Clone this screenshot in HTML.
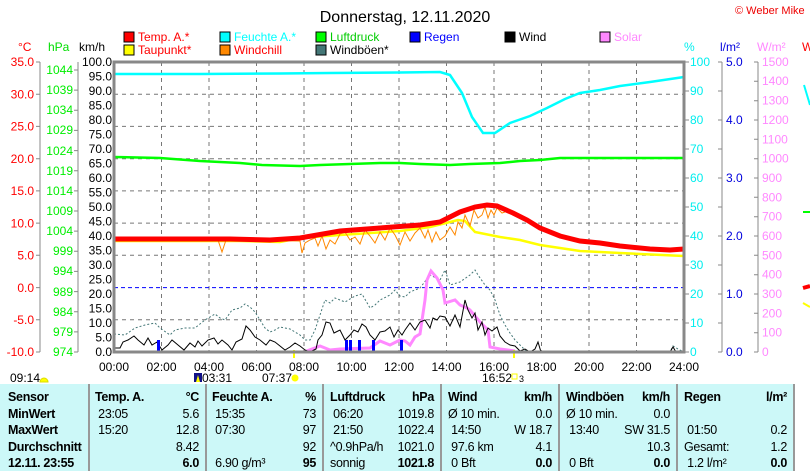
<!DOCTYPE html>
<html><head><meta charset="utf-8"><style>
body{margin:0;background:#fff;width:810px;height:471px;overflow:hidden;font-family:"Liberation Sans",sans-serif}
svg{position:absolute;left:0;top:0}
text{font-family:"Liberation Sans",sans-serif;font-size:12px}
.tb{position:absolute;left:0;top:384px;width:794px;height:87px;background:#ccf8f8}
.c{position:absolute;height:82px;font-size:12.5px;letter-spacing:-0.3px}
.r{display:block;height:16.5px;line-height:16.5px;white-space:nowrap}
.sep{position:absolute;top:384px;width:2px;height:87px;background:#999}
b{font-weight:bold}
</style></head><body>
<svg width="810" height="471" viewBox="0 0 810 471">
<text x="405" y="22" text-anchor="middle" style="font-size:16px">Donnerstag, 12.11.2020</text>
<text x="735" y="14" fill="#e00" style="font-size:11px">© Weber Mike</text>
<g style="font-size:12px">
<rect x="124" y="32" width="10" height="10" fill="#f00" stroke="#000"/><text x="138" y="41" fill="#f00">Temp. A.*</text>
<rect x="220" y="32" width="10" height="10" fill="#0ff" stroke="#000"/><text x="234" y="41" fill="#0ff">Feuchte A.*</text>
<rect x="316" y="32" width="10" height="10" fill="#0f0" stroke="#000"/><text x="330" y="41" fill="#0c0">Luftdruck</text>
<rect x="410" y="32" width="10" height="10" fill="#00f" stroke="#000"/><text x="424" y="41" fill="#00f">Regen</text>
<rect x="505" y="32" width="10" height="10" fill="#000" stroke="#000"/><text x="519" y="41">Wind</text>
<rect x="600" y="32" width="10" height="10" fill="#f8f" stroke="#000"/><text x="614" y="41" fill="#f8f">Solar</text>
<rect x="124" y="45" width="10" height="10" fill="#ff0" stroke="#000"/><text x="138" y="54" fill="#f00">Taupunkt*</text>
<rect x="220" y="45" width="10" height="10" fill="#f80" stroke="#000"/><text x="234" y="54" fill="#f00">Windchill</text>
<rect x="316" y="45" width="10" height="10" fill="#477" stroke="#000"/><text x="330" y="54">Windböen*</text>
</g>
<text x="18" y="51" fill="#f00">°C</text>
<text x="48" y="51" fill="#0d0">hPa</text>
<text x="79" y="51">km/h</text>
<text x="684" y="51" fill="#0ee">%</text>
<text x="720" y="51" fill="#00d">l/m²</text>
<text x="757" y="51" fill="#f8f">W/m²</text>
<text x="802" y="51" fill="#f00">W</text>
<g stroke="#777" stroke-dasharray="4,4" stroke-width="1">
<path d="M114 94.2H684M114 126.4H684M114 158.7H684M114 190.9H684M114 223.1H684M114 255.3H684M114 319.8H684"/>
<path d="M161.5 62V352M209 62V352M256.5 62V352M304 62V352M351.5 62V352M399 62V352M446.5 62V352M494 62V352M541.5 62V352M589 62V352M636.5 62V352"/>
</g>
<path d="M114 287.6H684" stroke="#00f" stroke-dasharray="4,3"/>
<path d="M114 351H684" stroke="#00f" stroke-dasharray="2,2"/>
<g stroke="#888"><path d="M40 62V352M78 62V352M722 62V352M758 62V352"/></g>
<g stroke="#888">
<path d="M36 62h4M36 94.2h4M36 126.4h4M36 158.7h4M36 190.9h4M36 223.1h4M36 255.3h4M36 287.6h4M36 319.8h4M36 352h4"/>
<path d="M74 70h4M74 90.1h4M74 110.3h4M74 130.4h4M74 150.6h4M74 170.7h4M74 190.9h4M74 211h4M74 231.1h4M74 251.3h4M74 271.4h4M74 291.6h4M74 311.7h4M74 331.9h4M74 352h4"/>
<path d="M718 62h4M718 91h4M718 120h4M718 149h4M718 178h4M718 207h4M718 236h4M718 265h4M718 294h4M718 323h4M718 352h4"/>
<path d="M754 62h4M754 81.3h4M754 100.7h4M754 120h4M754 139.3h4M754 158.7h4M754 178h4M754 197.3h4M754 216.7h4M754 236h4M754 255.3h4M754 274.7h4M754 294h4M754 313.3h4M754 332.7h4M754 352h4"/>
<path d="M685 62h4M685 91h4M685 120h4M685 149h4M685 178h4M685 207h4M685 236h4M685 265h4M685 294h4M685 323h4M685 352h4"/>
</g>
<g fill="#f00" text-anchor="end">
<text x="34" y="66">35.0</text><text x="34" y="98.5">30.0</text><text x="34" y="130.7">25.0</text><text x="34" y="163">20.0</text><text x="34" y="195">15.0</text><text x="34" y="227.4">10.0</text><text x="34" y="259.6">5.0</text><text x="34" y="291.9">0.0</text><text x="34" y="324">-5.0</text><text x="34" y="356">-10.0</text>
</g>
<g fill="#0e0" text-anchor="end">
<text x="73" y="74">1044</text><text x="73" y="94">1039</text><text x="73" y="114">1034</text><text x="73" y="134">1029</text><text x="73" y="155">1024</text><text x="73" y="175">1019</text><text x="73" y="195">1014</text><text x="73" y="215">1009</text><text x="73" y="235">1004</text><text x="73" y="255">999</text><text x="73" y="275">994</text><text x="73" y="296">989</text><text x="73" y="316">984</text><text x="73" y="336">979</text><text x="73" y="356">974</text>
</g>
<g text-anchor="end">
<text x="112" y="66">100.0</text><text x="112" y="80.5">95.0</text><text x="112" y="95">90.0</text><text x="112" y="109.5">85.0</text><text x="112" y="124">80.0</text><text x="112" y="138.5">75.0</text><text x="112" y="153">70.0</text><text x="112" y="167.5">65.0</text><text x="112" y="182">60.0</text><text x="112" y="196.5">55.0</text><text x="112" y="211">50.0</text><text x="112" y="225.5">45.0</text><text x="112" y="240">40.0</text><text x="112" y="254.5">35.0</text><text x="112" y="269">30.0</text><text x="112" y="283.5">25.0</text><text x="112" y="298">20.0</text><text x="112" y="312.5">15.0</text><text x="112" y="327">10.0</text><text x="112" y="341.5">5.0</text><text x="112" y="356">0.0</text>
</g>
<g fill="#0ee">
<text x="690" y="66">100</text><text x="690" y="95">90</text><text x="690" y="124">80</text><text x="690" y="153">70</text><text x="690" y="182">60</text><text x="690" y="211">50</text><text x="690" y="240">40</text><text x="690" y="269">30</text><text x="690" y="298">20</text><text x="690" y="327">10</text><text x="690" y="356">0</text>
</g>
<g fill="#00d">
<text x="726" y="66">5.0</text><text x="726" y="124">4.0</text><text x="726" y="182">3.0</text><text x="726" y="240">2.0</text><text x="726" y="298">1.0</text><text x="726" y="356">0.0</text>
</g>
<g fill="#f8f">
<text x="762" y="66">1500</text><text x="762" y="85">1400</text><text x="762" y="104.7">1300</text><text x="762" y="124">1200</text><text x="762" y="143.3">1100</text><text x="762" y="162.7">1000</text><text x="762" y="182">900</text><text x="762" y="201.3">800</text><text x="762" y="220.7">700</text><text x="762" y="240">600</text><text x="762" y="259.3">500</text><text x="762" y="278.7">400</text><text x="762" y="298">300</text><text x="762" y="317.3">200</text><text x="762" y="336.7">100</text><text x="762" y="356">0</text>
</g>
<g text-anchor="middle">
<text x="114" y="371">00:00</text><text x="161.5" y="371">02:00</text><text x="209" y="371">04:00</text><text x="256.5" y="371">06:00</text><text x="304" y="371">08:00</text><text x="351.5" y="371">10:00</text><text x="399" y="371">12:00</text><text x="446.5" y="371">14:00</text><text x="494" y="371">16:00</text><text x="541.5" y="371">18:00</text><text x="589" y="371">20:00</text><text x="636.5" y="371">22:00</text><text x="684" y="371">24:00</text>
</g>
<text x="10" y="382">09:14</text><path d="M40 382a4 4 0 0 1 8 0z" fill="#ff0" stroke="#dd0"/>
<rect x="194" y="373" width="8" height="9" fill="#118"/><path d="M198 375l-2 7h4z" fill="#ff0"/><text x="202" y="382">03:31</text>
<text x="262" y="382">07:37</text><circle cx="295" cy="378" r="3.5" fill="#ff0"/>
<text x="482" y="382">16:52</text><rect x="512" y="374" width="5" height="5" fill="none" stroke="#ff0"/><text x="519" y="382" style="font-size:9px">3</text>
<polyline fill="none" stroke="#0ff" stroke-width="2.5" points="114,74 200,74 280,73.5 330,73 400,72.5 440,72 450,75 462,93 472,117 483,133 495,133 510,123 530,116 547,108 565,99 580,93 600,90 620,86 650,82 684,77"/>
<polyline fill="none" stroke="#0f0" stroke-width="2.5" points="114,157 160,158 200,161 240,163 262,165 300,166 320,165 350,164 380,163 400,163 420,164 450,165 470,164 500,163 520,161 540,160 560,158 684,158"/>
<polyline fill="none" stroke="#ff0" stroke-width="2.5" points="114,241 240,241 280,242 300,238 340,235 400,231 430,227 450,222 458,220 465,221 475,232 490,235 500,237 520,240 540,245 560,248 580,251 620,253 684,256"/>
<polyline fill="none" stroke="#f80" stroke-width="1" points="114,240 218,240 222,252 226,240 300,241 302,253 305,243 310,240 315,238 318,246 322,236 326,249 330,240 335,244 340,234 345,232 350,240 355,237 360,244 365,230 370,236 375,243 380,232 385,240 390,228 395,235 400,245 405,232 410,241 415,233 420,228 425,238 428,230 432,242 436,232 440,240 445,236 450,227 455,235 458,222 462,228 465,215 470,226 474,210 478,218 482,215 485,207 488,218 491,210 494,215 497,208 502,213 505,212"/>
<polyline fill="none" stroke="#f00" stroke-width="5" points="114,239 230,239 270,240 300,238 340,231 380,228 420,225 440,222 460,212 475,207 487,205 497,206 513,213 527,220 540,228 560,236 580,241 600,243 620,246 650,249 670,250 684,249"/>
<polyline fill="none" stroke="#477" stroke-width="1" stroke-dasharray="2,2" points="114,334 125,335 135,328 145,325 155,323 160,328 170,335 175,330 185,328 195,328 205,320 215,314 220,318 225,320 232,310 240,308 245,304 250,307 255,312 260,320 265,328 270,332 275,330 280,327 290,329 300,335 305,340 310,340 315,330 320,315 325,300 330,303 335,298 345,302 355,296 362,294 370,308 375,305 380,300 390,295 395,290 400,296 405,297 410,292 420,288 430,275 440,280 445,270 450,285 460,282 470,275 475,270 478,275 485,285 490,290 495,300 500,315 505,325 510,333 515,340 520,345 525,350 530,352 670,352 673,346 678,349 684,352"/>
<polyline fill="none" stroke="#f8f" stroke-width="3" points="304,352 320,346 330,350 340,349 370,348 380,341 390,345 400,340 405,341 410,345 415,337 420,334 425,300 427,280 431,271 437,278 443,290 445,303 455,300 460,305 467,308 470,310 480,322 488,330 490,347 500,349 515,351"/>
<polyline fill="none" stroke="#000" stroke-width="1" points="114,348 120,348 123,342 128,340 134,336 138,340 144,345 148,338 152,345 157,342 162,350 168,345 172,340 178,345 184,350 190,343 195,347 198,341 202,346 208,340 214,338 218,344 222,340 228,345 232,350 236,342 242,339 246,326 250,330 255,337 260,340 266,345 270,340 275,342 280,346 285,350 290,347 295,343 300,346 305,350 310,352 316,349 318,340 322,335 326,322 330,323 334,333 340,330 345,340 350,335 354,330 358,332 362,324 366,327 370,335 375,340 380,332 385,331 390,327 394,337 398,330 402,335 405,330 410,323 415,330 420,322 425,320 430,328 433,318 437,320 440,316 445,317 450,326 455,315 460,327 465,300 468,310 472,318 475,313 478,330 482,322 485,335 488,328 492,331 497,327 500,336 505,342 510,345 515,346 520,351 525,349 530,352 535,349 538,342 541,352 670,352 673,347 676,352 684,352"/>
<g fill="#00f">
<rect x="157" y="340" width="3" height="12"/><rect x="345" y="340" width="3" height="12"/><rect x="349" y="340" width="3" height="12"/><rect x="358" y="340" width="3" height="12"/><rect x="372" y="340" width="3" height="12"/><rect x="400" y="340" width="3" height="12"/>
</g>
<rect x="293" y="350" width="2" height="8" fill="#ff0"/><rect x="513" y="350" width="2" height="8" fill="#ff0"/>
<rect x="114" y="62" width="570" height="290" fill="none" stroke="#888" stroke-width="3"/>
<path d="M804 85l6 20" stroke="#0ff" stroke-width="2"/>
<path d="M803 212h7" stroke="#0f0" stroke-width="2"/>
<path d="M803 288l7-2" stroke="#f00" stroke-width="4"/>
<path d="M803 303l7 4" stroke="#ff0" stroke-width="2"/>
</svg>
<div class="tb"></div>
<div class="sep" style="left:88px"></div><div class="sep" style="left:205px"></div><div class="sep" style="left:322px"></div><div class="sep" style="left:440px"></div><div class="sep" style="left:558px"></div><div class="sep" style="left:676px"></div><div class="sep" style="left:793px"></div>
<div class="c" style="left:8px;width:78px;top:389px">
<div class="r"><b>Sensor</b></div><div class="r"><b>MinWert</b></div><div class="r"><b>MaxWert</b></div><div class="r"><b>Durchschnitt</b></div><div class="r"><b>12.11. 23:55</b></div></div>
<div class="c" style="left:95px;width:104px;top:389px">
<div class="r"><b>Temp. A.</b><b style="float:right">°C</b></div><div class="r">&nbsp;23:05<span style="float:right">5.6</span></div><div class="r">&nbsp;15:20<span style="float:right">12.8</span></div><div class="r">&nbsp;<span style="float:right">8.42</span></div><div class="r">&nbsp;<b style="float:right">6.0</b></div></div>
<div class="c" style="left:212px;width:104px;top:389px">
<div class="r"><b>Feuchte A.</b><b style="float:right">%</b></div><div class="r">&nbsp;15:35<span style="float:right">73</span></div><div class="r">&nbsp;07:30<span style="float:right">97</span></div><div class="r">&nbsp;<span style="float:right">92</span></div><div class="r">&nbsp;6.90 g/m³<b style="float:right">95</b></div></div>
<div class="c" style="left:330px;width:104px;top:389px">
<div class="r"><b>Luftdruck</b><b style="float:right">hPa</b></div><div class="r">&nbsp;06:20<span style="float:right">1019.8</span></div><div class="r">&nbsp;21:50<span style="float:right">1022.4</span></div><div class="r">^0.9hPa/h<span style="float:right">1021.0</span></div><div class="r">sonnig<b style="float:right">1021.8</b></div></div>
<div class="c" style="left:448px;width:104px;top:389px">
<div class="r"><b>Wind</b><b style="float:right">km/h</b></div><div class="r">Ø 10 min.<span style="float:right">0.0</span></div><div class="r">&nbsp;14:50<span style="float:right">W 18.7</span></div><div class="r">&nbsp;97.6 km<span style="float:right">4.1</span></div><div class="r">&nbsp;0 Bft<b style="float:right">0.0</b></div></div>
<div class="c" style="left:566px;width:104px;top:389px">
<div class="r"><b>Windböen</b><b style="float:right">km/h</b></div><div class="r">Ø 10 min.<span style="float:right">0.0</span></div><div class="r">&nbsp;13:40<span style="float:right">SW 31.5</span></div><div class="r">&nbsp;<span style="float:right">10.3</span></div><div class="r">&nbsp;0 Bft<b style="float:right">0.0</b></div></div>
<div class="c" style="left:684px;width:103px;top:389px">
<div class="r"><b>Regen</b><b style="float:right">l/m²</b></div><div class="r">&nbsp;</div><div class="r">&nbsp;01:50<span style="float:right">0.2</span></div><div class="r">Gesamt:<span style="float:right">1.2</span></div><div class="r">&nbsp;1.2 l/m²<b style="float:right">0.0</b></div></div>
</body></html>
